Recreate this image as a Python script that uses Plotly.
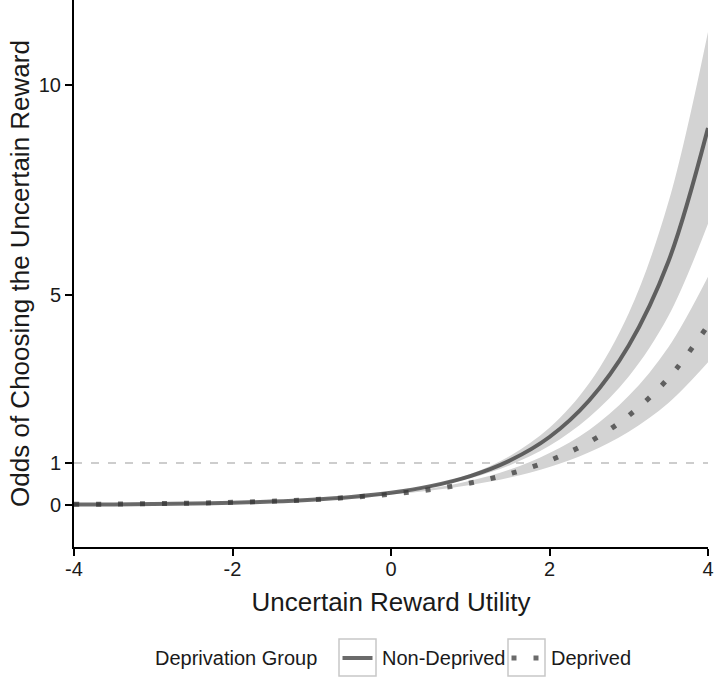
import plotly.graph_objects as go

# ---- data ----
x_vals = [-4, -3.5, -3, -2.5, -2, -1.5, -1, -0.5, 0, 0.5, 1, 1.5, 2, 2.5, 3, 3.5, 4]

nondep_fit = [0.010, 0.015, 0.023, 0.035, 0.053, 0.081, 0.125, 0.19, 0.29, 0.45, 0.69,
              1.06, 1.62, 2.49, 3.80, 5.80, 8.98]
nondep_upper = [0.012, 0.018, 0.027, 0.040, 0.060, 0.090, 0.135, 0.20, 0.305, 0.47, 0.74,
                1.17, 1.84, 2.90, 4.57, 7.21, 11.27]
nondep_lower = [0.009, 0.014, 0.021, 0.033, 0.050, 0.077, 0.12, 0.183, 0.28, 0.425, 0.64,
                0.95, 1.41, 2.09, 3.06, 4.50, 6.70]

dep_fit = [0.016, 0.0225, 0.032, 0.045, 0.064, 0.091, 0.129, 0.184, 0.261, 0.370, 0.525,
           0.745, 1.06, 1.50, 2.13, 3.02, 4.28]
dep_upper = [0.017, 0.0235, 0.0335, 0.047, 0.067, 0.095, 0.135, 0.193, 0.274, 0.395, 0.578,
             0.846, 1.24, 1.79, 2.60, 3.76, 5.44]
dep_lower = [0.0152, 0.0216, 0.0307, 0.0433, 0.0615, 0.0875, 0.124, 0.176, 0.249, 0.345, 0.477,
             0.656, 0.906, 1.255, 1.746, 2.43, 3.40]

group_names = ["Non-Deprived", "Deprived"]
ref_odds = 1
x_tick_vals = [-4, -2, 0, 2, 4]
x_tick_text = ["-4", "-2", "0", "2", "4"]
y_tick_vals = [0, 1, 5, 10]
y_tick_text = ["0", "1", "5", "10"]

# ---- styling ----
FONT = "Liberation Sans, Arial, Helvetica, sans-serif"
TXT = "#1a1a1a"
BAND = "#d3d3d3"
LINE = "rgba(50,50,50,0.72)"
W, H = 714, 677
L, R, T, B = 74, 6, 0, 130
PW, PH = W - L - R, H - T - B


def px(xp):
    return (xp - L) / PW


def py(yp):
    return (H - B - yp) / PH


fig = go.Figure()

# confidence bands
for lo, hi in [(nondep_lower, nondep_upper), (dep_lower, dep_upper)]:
    fig.add_trace(go.Scatter(x=x_vals, y=lo, mode="lines",
                             line=dict(width=0, shape="spline", color=BAND),
                             showlegend=False, hoverinfo="skip"))
    fig.add_trace(go.Scatter(x=x_vals, y=hi, mode="lines", fill="tonexty",
                             fillcolor=BAND,
                             line=dict(width=0, shape="spline", color=BAND),
                             showlegend=False, hoverinfo="skip"))

# fitted curves
fig.add_trace(go.Scatter(x=x_vals, y=nondep_fit, mode="lines", name=group_names[0],
                         line=dict(color=LINE, width=4, shape="spline"),
                         showlegend=False))
fig.add_trace(go.Scatter(x=x_vals, y=dep_fit, mode="lines", name=group_names[1],
                         line=dict(color=LINE, width=5, shape="spline", dash="5px,17px"),
                         showlegend=False))

# reference line at odds = 1
fig.add_shape(type="line", xref="paper", x0=0, x1=1, yref="y", y0=ref_odds, y1=ref_odds,
              line=dict(color="#bdbdbd", width=1.5, dash="8px,9px"), layer="below")

# ---- manual legend ----
leg_y = 658
fig.add_annotation(text="Deprivation Group", xref="paper", yref="paper",
                   x=px(153), y=py(leg_y), xanchor="left", yanchor="middle",
                   showarrow=False, font=dict(family=FONT, size=20, color=TXT))
for x0, label, dash, lw in [(339, group_names[0], "solid", 4), (508, group_names[1], "5px,17px", 5)]:
    fig.add_shape(type="rect", xref="paper", yref="paper",
                  x0=px(x0), x1=px(x0 + 37), y0=py(676), y1=py(639),
                  line=dict(color="#c8c8c8", width=1.5), fillcolor="white")
    fig.add_shape(type="line", xref="paper", yref="paper",
                  x0=px(x0 + 3.5), x1=px(x0 + 33.5), y0=py(leg_y), y1=py(leg_y),
                  line=dict(color=LINE, width=lw, dash=dash))
    fig.add_annotation(text=label, xref="paper", yref="paper",
                       x=px(x0 + 41), y=py(leg_y), xanchor="left", yanchor="middle",
                       showarrow=False, font=dict(family=FONT, size=20, color=TXT))

axis_common = dict(showline=True, linecolor="black", linewidth=2, ticks="outside",
                   ticklen=7, tickwidth=2, tickcolor="black", showgrid=False,
                   zeroline=False, automargin=False,
                   tickfont=dict(family=FONT, size=20, color=TXT))

fig.update_layout(
    width=W, height=H,
    margin=dict(l=L, r=R, t=T, b=B, pad=0, autoexpand=False),
    paper_bgcolor="white", plot_bgcolor="white",
    showlegend=False,
    font=dict(family=FONT, color=TXT),
    xaxis=dict(range=[-4, 4], tickvals=x_tick_vals, ticktext=x_tick_text,
               ticklabelstandoff=-4,
               title=dict(text="Uncertain Reward Utility",
                          font=dict(family=FONT, size=26, color=TXT), standoff=14),
               **axis_common),
    yaxis=dict(range=[-1, 12.03], tickvals=y_tick_vals, ticktext=y_tick_text,
               title=dict(text="Odds of Choosing the Uncertain Reward",
                          font=dict(family=FONT, size=26, color=TXT), standoff=2),
               **axis_common),
)

fig.write_html("out.html", config={"displayModeBar": False},
               post_script="document.body.style.margin='0px';document.body.style.padding='0px';")
